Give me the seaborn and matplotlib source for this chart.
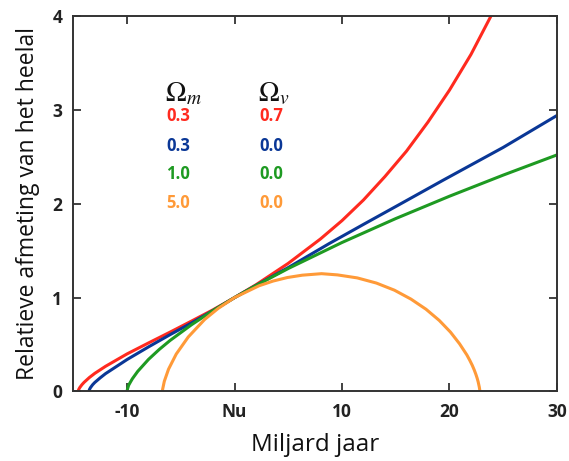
import matplotlib
matplotlib.use("Agg")
import matplotlib.pyplot as plt
import seaborn as sns
import pandas as pd

# ---- data (x: billion years from now, y: relative size) ----
red_t = [-14.55, -14.5, -14.4, -14.2, -14.0, -13.5, -13.0, -12.0, -10.0, -8.0, -6.0, -4.0,
         -2.0, 0.0, 2.0, 5.0, 8.0, 10.0, 12.0, 14.0, 16.0, 18.0, 20.0, 22.0, 24.0]
red_a = [0.0, 0.02, 0.041, 0.072, 0.097, 0.149, 0.193, 0.268, 0.40, 0.517, 0.632, 0.75,
         0.87, 1.0, 1.137, 1.365, 1.625, 1.82, 2.04, 2.29, 2.56, 2.87, 3.21, 3.59, 4.03]

blue_t = [-13.55, -13.5, -13.4, -13.2, -13.0, -12.5, -12.0, -11.0, -10.0, -8.0, -6.0, -4.0,
          -2.0, 0.0, 2.0, 5.0, 8.8, 12.0, 15.0, 19.4, 25.0, 30.0]
blue_a = [0.0, 0.02, 0.041, 0.072, 0.096, 0.145, 0.19, 0.265, 0.34, 0.475, 0.605, 0.73,
          0.862, 1.0, 1.13, 1.32, 1.575, 1.78, 1.97, 2.25, 2.6, 2.94]

green_t = [-10.0, -9.95, -9.85, -9.7, -9.5, -9.0, -8.0, -7.0, -6.0, -4.0, -2.0, 0.0,
           2.0, 5.0, 10.0, 15.0, 20.0, 25.0, 30.0]
green_a = [0.0, 0.029, 0.066, 0.097, 0.136, 0.215, 0.342, 0.448, 0.543, 0.711, 0.862, 1.0,
           1.129, 1.31, 1.587, 1.842, 2.08, 2.305, 2.52]

orange_t = [-6.72, -6.68, -6.53, -6.14, -5.42, -4.3, -2.78, -1.52, 0.0, 2.28, 3.58, 4.92,
            6.31, 8.1, 9.58, 11.42, 13.2, 14.88, 16.42, 17.82, 19.05, 20.09, 20.94,
            21.62, 21.89, 22.12, 22.31, 22.46, 22.58, 22.67, 22.78, 22.84]
orange_a = [0.0, 0.028, 0.109, 0.237, 0.399, 0.581, 0.767, 0.885, 1.0, 1.126, 1.176, 1.214,
            1.239, 1.255, 1.242, 1.21, 1.155, 1.079, 0.984, 0.876, 0.757, 0.633, 0.508,
            0.389, 0.332, 0.279, 0.228, 0.182, 0.140, 0.103, 0.045, 0.0]

omega_m = ["0.3", "0.3", "1.0", "5.0"]
omega_v = ["0.7", "0.0", "0.0", "0.0"]
models = ["rood", "blauw", "groen", "oranje"]
colors = ["#ff2a1f", "#0a3796", "#1e9a22", "#ff9a38"]

x_ticks = [-10, 0, 10, 20, 30]
x_tick_labels = ["-10", "Nu", "10", "20", "30"]
y_ticks = [0, 1, 2, 3, 4]

frames = []
for name, t, a in zip(models, [red_t, blue_t, green_t, orange_t],
                      [red_a, blue_a, green_a, orange_a]):
    frames.append(pd.DataFrame({"jaar": t, "afmeting": a, "model": name}))
df = pd.concat(frames, ignore_index=True)

sns.set_style("ticks")
plt.rcParams["font.family"] = ["Open Sans", "DejaVu Sans"]
plt.rcParams["mathtext.fontset"] = "stix"

fig = plt.figure(figsize=(5.69, 4.61), dpi=100)
ax = fig.add_axes([0.1288, 0.1508, 0.850, 0.8145])

sns.lineplot(data=df, x="jaar", y="afmeting", hue="model", hue_order=models,
             palette=dict(zip(models, colors)), estimator=None, sort=False,
             linewidth=2.2, legend=False, ax=ax)

ax.set_xlim(-15, 30)
ax.set_ylim(0, 4)
ax.set_xticks(x_ticks)
ax.set_xticklabels(x_tick_labels)
ax.set_yticks(y_ticks)
for s in ax.spines.values():
    s.set_visible(True)
    s.set_color("#333333")
    s.set_linewidth(1.4)
ax.tick_params(direction="in", length=6, width=1.3, color="#333333",
               top=True, right=True, labelsize=12.5, pad=8)
for lab in ax.get_xticklabels() + ax.get_yticklabels():
    lab.set_fontweight("bold")
    lab.set_color("#222222")

ax.set_xlabel("Miljard jaar", fontsize=17.5, labelpad=9, color="#111111")
ax.set_ylabel("Relatieve afmeting van het heelal", fontsize=16.5, labelpad=9, color="#111111")

# header and table of parameters
ax.text(-6.5, 3.17, r"$\Omega_{\mathbf{\mathit{m}}}$", fontsize=20, va="center", ha="left", color="#111111")
ax.text(2.15, 3.17, r"$\Omega_{\mathbf{\mathit{v}}}$", fontsize=20, va="center", ha="left", color="#111111")
row_y = [2.934, 2.62, 2.316, 2.013]
for m, v, c, yy in zip(omega_m, omega_v, colors, row_y):
    ax.text(-6.35, yy, m, color=c, fontsize=12, fontweight="bold", va="center", ha="left")
    ax.text(2.33, yy, v, color=c, fontsize=12, fontweight="bold", va="center", ha="left")

fig.savefig("out.png", dpi=100)
